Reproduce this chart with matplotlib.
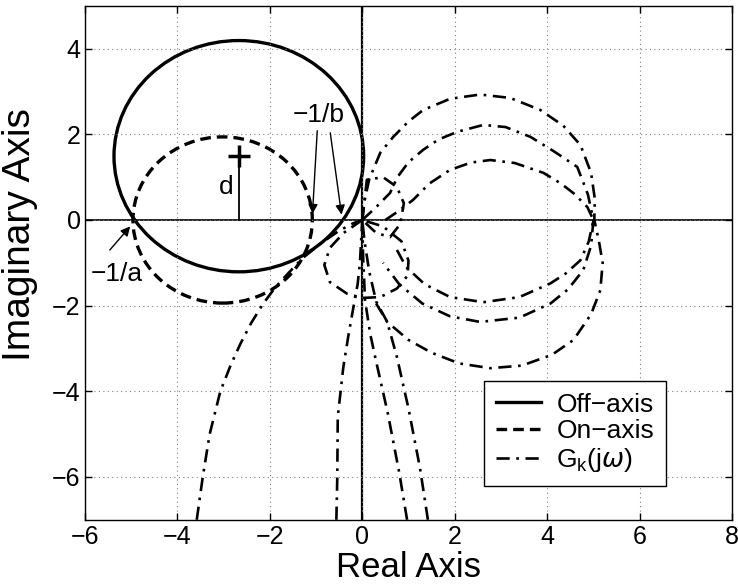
import numpy as np
import matplotlib.pyplot as plt
from matplotlib.patches import Circle

plt.rcParams['font.family'] = ['Liberation Sans', 'DejaVu Sans']

# circle criterion disks (centre x, centre y, radius)
off_axis = (-2.67, 1.49, 2.70)
on_axis = (-3.02, 0.0, 1.94)

# G_k(jw) traces, read point by point (real, imag)
gk_left_re = [-3.58, -3.45, -3.3, -3.07, -2.85, -2.64, -2.4, -2.14, -1.9, -1.65, -1.3, -0.9, -0.5, -0.2, 0.0]
gk_left_im = [-7.0, -6.0, -5.0, -4.0, -3.4, -2.9, -2.4, -1.95, -1.6, -1.3, -0.9, -0.55, -0.25, -0.08, 0.0]

gk_b_re = [-0.56, -0.54, -0.53, -0.41, -0.3, -0.19, -0.1, -0.05, 0.0]
gk_b_im = [-7.0, -6.0, -4.6, -3.44, -2.7, -2.03, -1.5, -1.0, 0.0]

gk_c_re = [0.97, 0.8, 0.55, 0.3, 0.17, 0.06, 0.02, 0.0]
gk_c_im = [-7.0, -5.9, -4.5, -3.3, -2.65, -1.87, -0.9, 0.0]

gk_d_re = [1.42, 1.25, 1.0, 0.75, 0.54, 0.3, 0.15, 0.05, 0.0]
gk_d_im = [-7.0, -5.8, -4.4, -3.2, -2.38, -1.9, -1.2, -0.5, 0.0]

gk_outer_re = [0.0, 0.05, 0.15, 0.39, 0.67, 1.0, 1.32, 1.9, 2.55, 3.2, 3.85, 4.35, 4.72, 4.95, 5.03,
               5.02, 5.12, 5.2, 5.15, 4.95, 4.57, 4.1, 3.45, 2.77, 2.1, 1.5, 1.0, 0.54, 0.3]
gk_outer_im = [0.0, 0.45, 0.95, 1.57, 1.94, 2.3, 2.57, 2.83, 2.93, 2.85, 2.57, 2.2, 1.75, 1.1, 0.5,
               0.0, -0.5, -1.0, -1.64, -2.2, -2.8, -3.15, -3.4, -3.46, -3.35, -3.1, -2.8, -2.38, -1.95]

gk_mid_re = [0.0, 0.3, 0.6, 0.76, 1.0, 1.32, 1.65, 2.06, 2.62, 3.1, 3.64, 4.15, 4.65, 4.88, 5.0,
             4.95, 4.78, 4.45, 4.07, 3.4, 2.55, 1.9, 1.3, 0.8, 0.45]
gk_mid_im = [0.0, 0.3, 0.63, 1.0, 1.35, 1.64, 1.88, 2.06, 2.22, 2.17, 1.94, 1.6, 1.24, 0.6, 0.0,
             -0.6, -1.17, -1.62, -1.95, -2.28, -2.38, -2.25, -1.95, -1.5, -1.0]

gk_in_re = [0.5, 0.8, 1.1, 1.45, 1.9, 2.35, 2.77, 3.3, 3.92, 4.3, 4.6, 4.87, 5.0,
            4.9, 4.72, 4.4, 4.07, 3.4, 2.62, 1.9, 1.35, 0.95, 0.7]
gk_in_im = [0.0, 0.22, 0.47, 0.85, 1.17, 1.34, 1.4, 1.33, 1.1, 0.85, 0.6, 0.3, 0.0,
            -0.5, -0.94, -1.25, -1.48, -1.8, -1.92, -1.8, -1.5, -1.1, -0.6]

gk_lower_loop_re = [0.0, -0.4, -0.7, -0.82, -0.7, -0.33, 0.0, 0.39, 0.75, 0.98, 1.0, 0.85, 0.45, 0.0]
gk_lower_loop_im = [0.0, -0.3, -0.65, -1.05, -1.45, -1.72, -1.82, -1.8, -1.6, -1.3, -0.95, -0.5, -0.15, 0.0]

gk_upper_loop_re = [0.0, 0.1, 0.45, 0.75, 0.9, 0.82, 0.6, 0.3, 0.0]
gk_upper_loop_im = [0.0, 0.94, 1.0, 0.77, 0.39, -0.1, -0.4, -0.3, 0.0]

fig = plt.figure(figsize=(7.38, 5.86), dpi=100)
ax = fig.add_axes([0.115, 0.113, 0.877, 0.877])

ax.axhline(0, color='black', lw=1.2, zorder=1)
ax.axvline(0, color='black', lw=1.6, zorder=1)

ax.add_patch(Circle(off_axis[:2], off_axis[2], fill=False, ec='black', lw=2.4))
ax.add_patch(Circle(on_axis[:2], on_axis[2], fill=False, ec='black', lw=2.4,
                    ls=(0, (3.2, 1.8))))

gk_style = dict(color='black', lw=1.9, ls=(0, (5, 2.5, 1, 2.5)))
traces = [(gk_left_re, gk_left_im), (gk_b_re, gk_b_im), (gk_c_re, gk_c_im),
          (gk_d_re, gk_d_im), (gk_outer_re, gk_outer_im), (gk_mid_re, gk_mid_im),
          (gk_in_re, gk_in_im), (gk_lower_loop_re, gk_lower_loop_im),
          (gk_upper_loop_re, gk_upper_loop_im)]
for re, im in traces:
    ax.plot(re, im, **gk_style)

# legend proxies
ax.plot([], [], color='black', lw=2.4, label='Off\u2212axis')
ax.plot([], [], color='black', lw=2.4, ls=(0, (3.2, 1.8)), label='On\u2212axis')
ax.plot([], [], label=r'G$_\mathregular{k}$(j$\omega$)', **gk_style)

# distance d and centre mark
ax.plot([off_axis[0], off_axis[0]], [0, off_axis[1]], color='black', lw=1.3)
ax.plot(off_axis[0], off_axis[1], marker='+', ms=16, mew=2.5, color='black')
ax.text(off_axis[0] - 0.28, 0.78, 'd', fontsize=19, ha='center', va='center')

arrow = dict(arrowstyle='-|>', color='black', lw=1.0, mutation_scale=14)
ax.annotate('', xy=(-4.98, -0.1), xytext=(-5.5, -0.75), arrowprops=arrow)
ax.text(-5.3, -1.27, '\u22121/a', fontsize=19, ha='center', va='center')
ax.annotate('', xy=(-1.08, 0.08), xytext=(-0.97, 2.15), arrowprops=arrow)
ax.annotate('', xy=(-0.44, 0.06), xytext=(-0.7, 2.1), arrowprops=arrow)
ax.text(-0.95, 2.45, '\u22121/b', fontsize=19, ha='center', va='center')

ax.set_xlim(-6, 8)
ax.set_ylim(-7, 5)
ax.set_xticks(np.arange(-6, 9, 2))
ax.set_yticks(np.arange(-6, 5, 2))
ax.set_xticklabels(['\u22126', '\u22124', '\u22122', '0', '2', '4', '6', '8'])
ax.set_yticklabels(['\u22126', '\u22124', '\u22122', '0', '2', '4'])
ax.tick_params(labelsize=18, direction='in', length=5, width=1, top=True, right=True)
ax.tick_params(axis='y', pad=3)
ax.grid(True, ls=(0, (1, 3)), color='0.5', lw=0.8)
ax.set_xlabel('Real Axis', fontsize=25, labelpad=2)
ax.set_ylabel('Imaginary Axis', fontsize=28)
ax.yaxis.set_label_coords(-0.072, 0.555)
for s in ax.spines.values():
    s.set_linewidth(1.0)

leg = ax.legend(loc='lower right', bbox_to_anchor=(0.898, 0.066), borderaxespad=0,
                fontsize=19, handlelength=1.7, handletextpad=0.6, labelspacing=0.1,
                fancybox=False, framealpha=1, edgecolor='black', borderpad=0.45)
leg.get_frame().set_linewidth(1.0)

fig.savefig('out.png', dpi=100)
